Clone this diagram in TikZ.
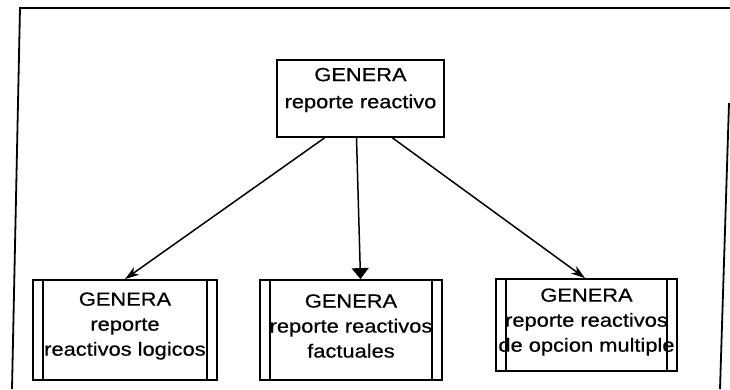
\documentclass[tikz,border=0pt]{standalone}
\usepackage{fontspec}
\setmainfont{Liberation Sans}[FakeStretch=1.15,FakeBold=0.6]
\usetikzlibrary{arrows.meta}
\begin{document}
\begin{tikzpicture}[x=1pt,y=-1pt,line width=1.8pt,
  box/.style={draw, rectangle, inner sep=0pt},
  txt/.style={align=center, inner sep=0pt, font=\fontsize{19}{25}\selectfont},
  barb/.style={line width=1.5pt,-{Stealth[length=14pt,width=9pt,inset=4pt]}},
  tri/.style={line width=1.5pt,-{Triangle[length=11pt,width=17pt]}}]
\useasboundingbox (0,0) rectangle (730,389);
% outer frame
\coordinate (fbl) at (12,389);
\coordinate (ftl) at (20,8);
\coordinate (ftr) at (730,8);
\coordinate (frt) at (729,103);
\coordinate (frb) at (720,389);
\draw (fbl) -- (ftl) -- (ftr);
\draw (frt) -- (frb);
% top box
\node[box, minimum width=167pt, minimum height=77pt] (top) at (360.5,98.5) {};
\node[txt, font=\fontsize{19}{27}\selectfont] (toptxt) at (360.5,90) {GENERA\\reporte reactivo};
% bottom boxes
\node[box, minimum width=184pt, minimum height=100pt] (L) at (125,330) {};
\node[txt] (Ltxt) at (125,326) {GENERA\\reporte\\reactivos logicos};
\node[box, minimum width=182pt, minimum height=100pt] (M) at (351,330) {};
\node[txt] (Mtxt) at (351,326) {GENERA\\reporte reactivos\\factuales};
\node[box, minimum width=181pt, minimum height=92pt] (R) at (586.5,325) {};
\node[txt] (Rtxt) at (586.5,322) {GENERA\\reporte reactivos\\de opcion multiple};
\foreach \b in {L,M,R}{
  \draw ([xshift=11pt]\b.north west) -- ([xshift=11pt]\b.south west);
  \draw ([xshift=-11pt]\b.north east) -- ([xshift=-11pt]\b.south east);
}
% connectors
\draw[barb] ([xshift=-36pt]top.south) -- ([xshift=0pt]L.north);
\draw[tri] ([xshift=-4pt]top.south) -- (top.south |- M.north);
\draw[barb] ([xshift=32pt]top.south) -- ([xshift=-1.5pt]R.north);
\end{tikzpicture}
\end{document}
